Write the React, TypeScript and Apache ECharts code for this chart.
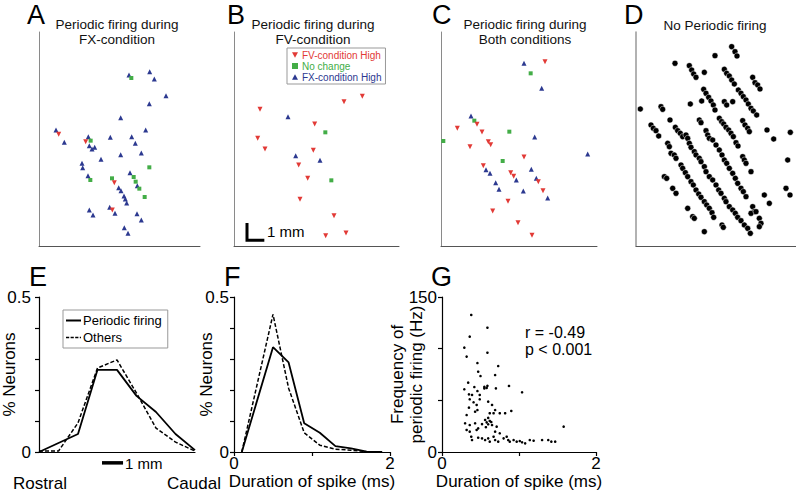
import React, { useEffect, useRef } from "react";
import * as echarts from "echarts";

const FONT = '"Liberation Sans", Arial, Helvetica, sans-serif';
const RED = "#e23a36";
const GREEN = "#43ad47";
const BLUE = "#2c3990";

// ---- Panel A: map positions (reference frame units, y grows caudal/down) ----
const aFxHigh = [[387,225],[449,215],[463,237],[498,287],[448,311],[362,353],[168,390],[193,427],[265,410],[331,412],[395,410],[437,390],[406,430],[268,437],[276,447],[284,442],[303,478],[362,464],[424,459],[246,490],[248,503],[264,527],[390,518],[412,557],[356,563],[363,572],[372,588],[376,597],[380,609],[268,630],[279,645],[329,622],[345,640],[411,641],[424,660],[373,683],[384,700]];
const aNoChange = [[394,234],[272,422],[448,502],[401,531],[407,545],[418,566],[434,591],[336,535],[271,540]];
const aFvHigh = [[176,403],[257,425],[343,548],[337,630]];

// ---- Panel B ----
const bFvHigh = [[432,305],[487,289],[180,328],[344,372],[173,415],[195,447],[340,451],[296,495],[323,535],[300,598],[402,647],[377,707],[438,699]];
const bFxHigh = [[264,350],[287,467],[360,481]];
const bNoChange = [[376,397],[394,541]];
const bScaleBar = [[141,669],[141,721],[193,721]];

// ---- Panel C ----
const cFxHigh = [[372,190],[425,265],[213,348],[404,411],[563,462],[258,509],[270,520],[287,548],[297,568],[349,540],[394,508],[409,535],[370,573],[443,594]];
const cFvHigh = [[435,185],[172,385],[231,373],[246,396],[265,425],[272,434],[210,440],[372,471],[250,497],[332,518],[341,529],[415,545],[429,572],[324,604],[278,633],[354,668],[396,706]];
const cNoChange = [[392,220],[223,362],[328,395],[130,423],[308,483]];

// ---- Panel D ----
const dNoPeriodic = [
  [395,140],[405,155],[411,168],[345,167],[225,190],
  [268,197],[275,210],[281,222],[288,232],[313,217],
  [373,208],[380,220],[388,228],[395,240],[403,252],
  [458,232],[465,248],[473,255],[480,267],
  [311,268],[318,280],[326,292],[333,303],[340,315],[345,330],
  [271,312],[305,303],[373,305],[380,315],[398,305],
  [415,270],[423,280],[430,290],[438,300],[445,312],[453,325],[460,333],[470,345],
  [121,327],[183,320],[188,328],[210,360],[298,360],[303,368],
  [358,355],[365,365],[371,372],[378,382],[386,390],[393,400],[400,410],
  [428,362],[435,375],[443,385],[448,395],
  [153,375],[160,385],[168,392],[176,408],
  [226,382],[233,392],[241,400],[248,410],[258,405],[263,415],
  [318,392],[323,405],[328,415],[501,390],[521,417],[571,397],
  [268,430],[273,442],[283,455],[288,465],[298,475],[303,485],[313,500],[318,515],[328,530],[338,540],[348,555],[356,570],[363,580],[373,595],[378,605],[388,620],[398,630],[406,640],[413,652],[423,662],[433,675],[443,685],[451,700],
  [338,420],[348,435],[358,450],[366,465],[373,480],[380,490],[388,505],[398,520],[406,535],[413,550],[423,565],[430,575],[438,590],
  [408,428],[414,438],[428,470],[433,480],[438,490],[453,515],
  [203,430],[208,440],[213,460],[223,465],[228,475],
  [243,495],[248,505],[256,518],[263,530],[273,545],[280,555],[288,570],[296,582],[303,592],[313,605],[320,615],[328,625],[336,638],[341,652],
  [193,530],[200,535],[218,565],[228,580],[263,625],[278,650],[283,655],[313,695],[366,675],[370,682],
  [458,620],[463,635],[453,640],[468,635],[478,655],[483,670],[478,680],
  [493,585],[508,610],[563,480],[558,565],[570,585]
];

// ---- Panel E: rostro-caudal distribution ----
const eX = [0,1,2,3,4,5,6,7,8];
const ePeriodic = [0,0.029,0.058,0.265,0.265,0.181,0.129,0.058,0.006];
const eOthers = [0.003,0.003,0.094,0.271,0.297,0.19,0.077,0.032,0.003];
const eScaleBar = [[3.23,-0.035],[4.31,-0.035]];

// ---- Panel F: spike duration distribution ----
const fX = [0.1,0.5,0.7,0.9,1.1,1.3,1.5,1.7,1.9];
const fPeriodic = [0,0.338,0.289,0.093,0.062,0.019,0.012,0.001,0];
const fOthers = [0,0.444,0.206,0.062,0.022,0.009,0.006,0.001,0];

// ---- Panel G: duration vs frequency ----
const gPoints = [
  [0.38,132.6],[0.59,120.3],[0.36,111.6],[0.29,101],[0.32,92.3],[0.59,96.1],[0.46,86.1],[0.73,83.2],[0.47,77.7],[0.5,73.5],
  [0.69,74.5],[0.34,67.1],[0.87,63.9],[1.04,57.8],[0.42,62.9],[0.55,63],[0.59,64],[0.55,61.5],[0.58,62],[0.7,61.6],
  [0.29,60.7],[0.46,59],[0.35,55.8],[0.39,55.2],[0.49,55.2],[0.36,51],[0.41,48.1],[0.49,51],[0.6,48.7],[0.65,45.5],
  [0.69,40.6],[0.67,37.5],[0.75,37.5],[0.82,37.5],[0.9,39.7],[0.45,45.5],[0.43,39],[0.46,40.6],[0.35,42.9],[0.32,35.8],
  [0.56,31],[0.58,28.7],[0.6,26.8],[0.62,30],[0.65,26.1],[0.3,27.8],[0.36,26.1],[0.43,27.8],[0.47,22.9],[0.71,24.5],
  [0.69,19.7],[0.75,18.1],[0.32,21.3],[0.36,19.7],[0.45,21.3],[0.38,14.8],[0.39,11.6],[0.47,13.8],[0.52,13.2],[0.56,11.6],
  [0.6,13.2],[0.62,10],[0.67,14.8],[0.69,11.6],[0.73,10],[0.8,13.2],[0.84,14.8],[0.86,11.6],[0.88,10],[0.93,11.6],
  [0.97,10],[1.01,10.6],[1.04,9.4],[1.08,8.4],[1.14,11.6],[1.19,10.9],[1.3,11.6],[1.38,11.6],[1.42,10],[1.47,10],
  [1.58,24.5],[0.62,37.5],[0.6,33],[0.64,29],[0.57,24],[0.52,27]
];

const gridDefs = [
  { left: 39, top: 32, width: 161, height: 214 },
  { left: 234, top: 32, width: 165, height: 214 },
  { left: 441, top: 32, width: 156, height: 214 },
  { left: 636, top: 32, width: 160, height: 214 },
  { left: 39, top: 297, width: 156, height: 155 },
  { left: 234, top: 297, width: 156, height: 155 },
  { left: 442, top: 297, width: 154, height: 155 },
];
const mapXRange = [[117,600],[102,597],[123,591],[108,588]];
const mapYRange = [96,738];

const hidden = { axisTick: { show: false }, axisLabel: { show: false }, splitLine: { show: false } };

function mapAxes() {
  const xs: any[] = [];
  const ys: any[] = [];
  mapXRange.forEach((r, i) => {
    xs.push({ gridIndex: i, type: "value", min: r[0], max: r[1], axisLine: { show: true, onZero: false, lineStyle: { color: "#555", width: 1 } }, ...hidden });
    ys.push({ gridIndex: i, type: "value", inverse: true, min: mapYRange[0], max: mapYRange[1], axisLine: { show: true, onZero: false, lineStyle: { color: i === 3 ? "#999" : "#8a8a8a", width: i === 3 ? 1.5 : 1 } }, ...hidden });
  });
  return { xs, ys };
}

const lbl = (keep: number[]) => (v: number) => (keep.some((k) => Math.abs(k - v) < 1e-9) ? String(v) : "");
const blackLine = { show: true, onZero: false, lineStyle: { color: "#000", width: 1.2 } };
const tick = { show: true, length: 4, lineStyle: { color: "#000", width: 1.2 } };
const labelStyle = { color: "#000", fontSize: 17, fontFamily: FONT };

const DOWN_TRI = "path://M0,0L10,0L5,9Z";
const UP_TRI = "path://M5,0L10,9L0,9Z";
const SOLID_ICON = "path://M0,0h15v2h-15z";
const DASH_ICON = "path://M0,0h3.2v1.6h-3.2z M4.6,0h3.2v1.6h-3.2z M9.2,0h3.2v1.6h-3.2z M13.8,0h1.2v1.6h-1.2z";

function scatter(name: string, grid: number, data: number[][], color: string, symbol: string, size: number, rotate = 0) {
  return { type: "scatter", name, xAxisIndex: grid, yAxisIndex: grid, data, symbol, symbolSize: size, symbolRotate: rotate, itemStyle: { color, opacity: 1 }, silent: true };
}

function txt(text: string, x: number, y: number, size: number, align = "left", color = "#000") {
  return { type: "text", x, y, silent: true, style: { text, fontSize: size, fontFamily: FONT, fill: color, align, verticalAlign: "middle" } };
}

function buildOption() {
  const { xs, ys } = mapAxes();
  const nameCommon = { nameLocation: "middle", nameMoveOverlap: false, nameTextStyle: labelStyle };
  xs.push({ gridIndex: 4, type: "value", min: 0, max: 8, axisLine: blackLine, ...hidden });
  ys.push({ gridIndex: 4, type: "value", min: 0, max: 0.5, interval: 0.1, axisLine: { ...blackLine, show: true }, axisTick: tick,
    axisLabel: { ...labelStyle, margin: 8, formatter: lbl([0, 0.5]), showMinLabel: true, showMaxLabel: true }, splitLine: { show: false },
    name: "% Neurons", ...nameCommon, nameGap: 21 });
  xs.push({ gridIndex: 5, type: "value", min: 0, max: 2, interval: 1, axisLine: blackLine, axisTick: tick,
    axisLabel: { ...labelStyle, margin: 3, formatter: lbl([0, 2]) }, splitLine: { show: false },
    name: "Duration of spike (ms)", ...nameCommon, nameGap: 21 });
  ys.push({ gridIndex: 5, type: "value", min: 0, max: 0.5, interval: 0.1, axisLine: { ...blackLine, show: true }, axisTick: tick,
    axisLabel: { ...labelStyle, margin: 5, formatter: lbl([0, 0.5]) }, splitLine: { show: false },
    name: "% Neurons", ...nameCommon, nameGap: 19 });
  xs.push({ gridIndex: 6, type: "value", min: 0, max: 2, interval: 1, axisLine: blackLine, axisTick: tick,
    axisLabel: { ...labelStyle, margin: 3, formatter: lbl([0, 2]) }, splitLine: { show: false },
    name: "Duration of spike (ms)", ...nameCommon, nameGap: 21 });
  ys.push({ gridIndex: 6, type: "value", min: 0, max: 150, interval: 50, axisLine: { ...blackLine, show: true }, axisTick: tick,
    axisLabel: { ...labelStyle, margin: 5, formatter: lbl([0, 150]) }, splitLine: { show: false },
    name: "Frequency of\nperiodic firing (Hz)", ...nameCommon, nameGap: 16, nameTextStyle: { ...labelStyle, lineHeight: 19 } });

  const series: any[] = [
    scatter("A FX", 0, aFxHigh, BLUE, "triangle", 5),
    scatter("A NC", 0, aNoChange, GREEN, "rect", 4),
    scatter("A FV", 0, aFvHigh, RED, "triangle", 5, 180),
    scatter("FX-condition High", 1, bFxHigh, BLUE, "triangle", 5),
    scatter("No change", 1, bNoChange, GREEN, "rect", 4),
    scatter("FV-condition High", 1, bFvHigh, RED, "triangle", 5, 180),
    { type: "line", name: "scaleB", xAxisIndex: 1, yAxisIndex: 1, data: bScaleBar, symbol: "none", clip: false, silent: true, lineStyle: { color: "#000", width: 3, cap: "butt", join: "miter" } },
    scatter("C FX", 2, cFxHigh, BLUE, "triangle", 5),
    scatter("C NC", 2, cNoChange, GREEN, "rect", 4),
    scatter("C FV", 2, cFvHigh, RED, "triangle", 5, 180),
    { ...scatter("D", 3, dNoPeriodic, "#000", "circle", 6), itemStyle: { color: "#000", opacity: 1, borderColor: "#fff", borderWidth: 0.5 } },
    { type: "line", name: "Periodic firing", xAxisIndex: 4, yAxisIndex: 4, data: eX.map((x, i) => [x, ePeriodic[i]]), symbol: "none", silent: true, lineStyle: { color: "#000", width: 1.8 }, itemStyle: { color: "#000" } },
    { type: "line", name: "Others", xAxisIndex: 4, yAxisIndex: 4, data: eX.map((x, i) => [x, eOthers[i]]), symbol: "none", silent: true, lineStyle: { color: "#000", width: 1.5, type: [4, 2] }, itemStyle: { color: "#000" } },
    { type: "line", name: "scaleE", xAxisIndex: 4, yAxisIndex: 4, data: eScaleBar, symbol: "none", clip: false, silent: true, lineStyle: { color: "#000", width: 3.5, cap: "butt" } },
    { type: "line", name: "F periodic", xAxisIndex: 5, yAxisIndex: 5, data: fX.map((x, i) => [x, fPeriodic[i]]), symbol: "none", silent: true, lineStyle: { color: "#000", width: 1.8 } },
    { type: "line", name: "F others", xAxisIndex: 5, yAxisIndex: 5, data: fX.map((x, i) => [x, fOthers[i]]), symbol: "none", silent: true, lineStyle: { color: "#000", width: 1.5, type: [4, 2] } },
    { ...scatter("G", 6, gPoints, "#000", "circle", 2.6) },
  ];

  const T = 13.5;
  const graphic = [
    txt("A", 27, 14.5, 27), txt("B", 227, 14.5, 27), txt("C", 432, 14.5, 27), txt("D", 624, 14.5, 27),
    txt("E", 29, 277, 27), txt("F", 224, 277, 27), txt("G", 431, 277, 27),
    txt("Periodic firing during", 117, 24.5, T, "center", "#111"), txt("FX-condition", 117, 39.5, T, "center", "#111"),
    txt("Periodic firing during", 313, 24.5, T, "center", "#111"), txt("FV-condition", 313, 39.5, T, "center", "#111"),
    txt("Periodic firing during", 525, 24.5, T, "center", "#111"), txt("Both conditions", 525, 39.5, T, "center", "#111"),
    txt("No Periodic firing", 715, 25, T, "center", "#111"),
    txt("1 mm", 267, 231, 15), txt("1 mm", 125, 463, 15),
    txt("Rostral", 40, 483, 17, "center"), txt("Caudal", 194, 483, 17, "center"),
    txt("r = -0.49", 525, 332, 16), txt("p < 0.001", 525, 349, 16),
  ];

  return {
    animation: false,
    backgroundColor: "#fff",
    textStyle: { fontFamily: FONT },
    grid: gridDefs.map((g) => ({ ...g, containLabel: false, outerBoundsMode: "none" })),
    xAxis: xs,
    yAxis: ys,
    legend: [
      {
        left: 287, top: 48, orient: "vertical", itemWidth: 6, itemHeight: 6, itemGap: 1,
        padding: [2, 4, 2, 5], borderColor: "#999", borderWidth: 1, borderRadius: 0,
        selectedMode: false,
        textStyle: { fontSize: 10, fontFamily: FONT, padding: [0, 0, 0, -1] },
        data: [
          { name: "FV-condition High", icon: DOWN_TRI, textStyle: { color: RED } },
          { name: "No change", icon: "rect", textStyle: { color: GREEN } },
          { name: "FX-condition High", icon: UP_TRI, textStyle: { color: BLUE } },
        ],
      },
      {
        left: 63, top: 310, orient: "vertical", itemWidth: 15, itemHeight: 2, itemGap: 4,
        padding: [4, 6, 4, 3], borderColor: "#999", borderWidth: 1, borderRadius: 0,
        selectedMode: false,
        textStyle: { fontSize: 13, fontFamily: FONT, color: "#000", padding: [0, 0, 0, -3] },
        data: [
          { name: "Periodic firing", icon: SOLID_ICON, itemStyle: { color: "#000" } },
          { name: "Others", icon: DASH_ICON, itemStyle: { color: "#000" } },
        ],
      },
    ],
    series,
    graphic,
  };
}

export default function App() {
  const ref = useRef<HTMLDivElement>(null);
  useEffect(() => {
    document.body.style.margin = "0";
    const chart = echarts.init(ref.current as HTMLDivElement, null, { renderer: "svg" });
    chart.setOption(buildOption() as any);
    return () => chart.dispose();
  }, []);
  return <div ref={ref} style={{ width: 796, height: 492, position: "absolute", left: 0, top: 0 }} />;
}
